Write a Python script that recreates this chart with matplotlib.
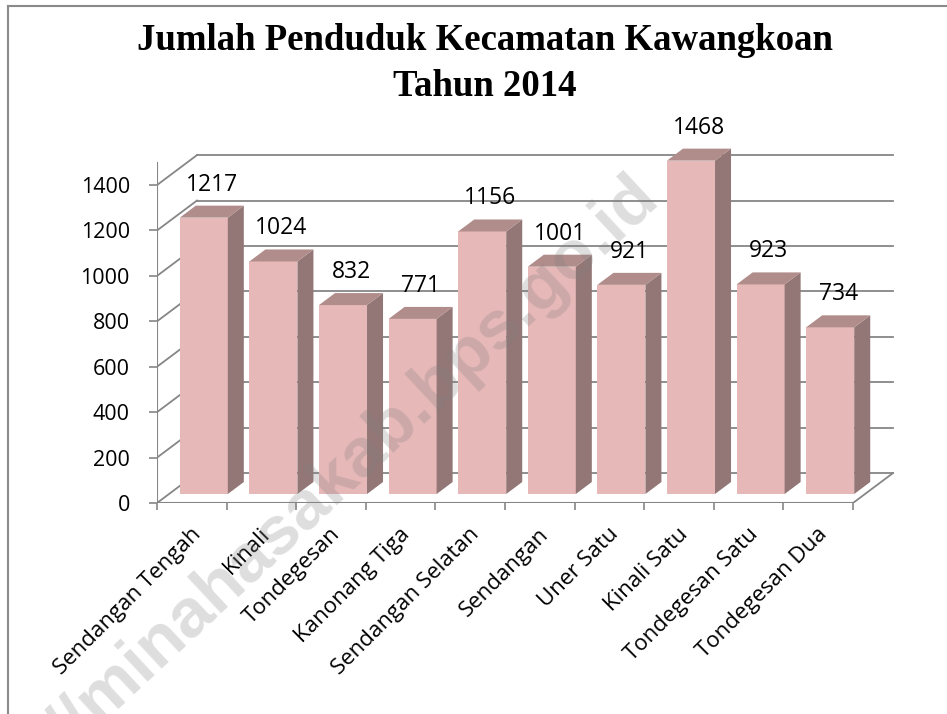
#%%
import numpy as np
import matplotlib.pyplot as plt
import matplotlib.transforms as mtransforms
from matplotlib.patches import Polygon

#%% data
kecamatan = ['Sendangan Tengah', 'Kinali', 'Tondegesan', 'Kanonang Tiga',
             'Sendangan Selatan', 'Sendangan', 'Uner Satu', 'Kinali Satu',
             'Tondegesan Satu', 'Tondegesan Dua']
penduduk = [1217, 1024, 832, 771, 1156, 1001, 921, 1468, 923, 734]
yticks = [0, 200, 400, 600, 800, 1000, 1200, 1400]

#%% fake 3d geometry (data units)
DX, DY = 0.575, 132     # depth of the floor / back wall
f0, f1 = 0.3, 0.7       # bar front and back, as fraction of depth
bl, bw = 0.155, 0.69    # bar offset and width inside a category
grid_c = '#868686'
front_c, side_c, top_c = '#E6B8B7', '#937676', '#B08D8B'
font = 'Open Sans'

fig = plt.figure(figsize=(9.47, 7.14), dpi=100)
ax = fig.add_axes([157/947, (714-503)/714, 743/947, 393/714])
ax.set_xlim(0, 743/69.6)
ax.set_ylim(0, 393/0.2271)
ax.patch.set_alpha(0)
for s in ax.spines.values():
    s.set_visible(False)

n = len(penduduk)
# back wall and left wall
for v in yticks:
    ax.plot([DX, n + DX], [v + DY, v + DY], color=grid_c, lw=1.3, zorder=1)
    ax.plot([0, DX], [v, v + DY], color=grid_c, lw=1.3, zorder=1)
ax.plot([0, 0], [0, 1497], color=grid_c, lw=1.5, zorder=1)
ax.plot([n, n + DX], [0, DY], color=grid_c, lw=1.3, zorder=1)
ax.plot([0, n], [0, 0], color=grid_c, lw=1.5, zorder=4)

# bars
d = (f1 - f0)
x0 = np.arange(n) + bl + f0*DX
ax.bar(x0, penduduk, width=bw, bottom=f0*DY, align='edge', color=front_c, zorder=3)
for i, v in enumerate(penduduk):
    xa, xb, yb = x0[i], x0[i] + bw, f0*DY
    side = [(xb, yb), (xb + d*DX, yb + d*DY), (xb + d*DX, yb + v + d*DY), (xb, yb + v)]
    top = [(xa, yb + v), (xb, yb + v), (xb + d*DX, yb + v + d*DY), (xa + d*DX, yb + v + d*DY)]
    ax.add_patch(Polygon(side, closed=True, facecolor=side_c, edgecolor='none', zorder=3))
    ax.add_patch(Polygon(top, closed=True, facecolor=top_c, edgecolor='none', zorder=3))
    ax.text(i + 0.5 + 0.5*DX, v + 0.5*DY + 119, str(v), ha='center', va='center',
            fontsize=16.5, family=font, zorder=5)

# axes ticks
ax.set_yticks(yticks)
ax.set_yticklabels([str(t) for t in yticks], family=font, fontsize=15.5)
ax.tick_params(axis='y', length=5.5, width=1.2, color=grid_c, pad=14)
ax.set_xticks(np.arange(n + 1))
ax.set_xticklabels([])
ax.tick_params(axis='x', length=5, width=1.2, color=grid_c, direction='out')

off = mtransforms.ScaledTranslation(-1/72, -15/72, fig.dpi_scale_trans)
for i, name in enumerate(kecamatan):
    ax.text(i + 0.5, 0, name, rotation=45, ha='right', va='top', rotation_mode='anchor',
            fontsize=16, family=font, transform=ax.transData + off)

# title
fig.text(485/947, 1 - 50/714, 'Jumlah Penduduk Kecamatan Kawangkoan', ha='center', va='baseline',
         fontsize=26.5, fontweight='bold', family='Liberation Serif')
fig.text(485/947, 1 - 96/714, 'Tahun 2014', ha='center', va='baseline',
         fontsize=26.5, fontweight='bold', family='Liberation Serif')

# border of the chart area (top and left only)
fig.add_artist(plt.Line2D([8/947, 8/947], [0, 1 - 6/714], color='#8a8a8a', lw=1.5))
fig.add_artist(plt.Line2D([8/947, 1], [1 - 6/714, 1 - 6/714], color='#8a8a8a', lw=1.5))

# watermark
fig.text(297/947, 1 - 514/714, 'http://minahasakab.bps.go.id', rotation=43,
         ha='center', va='center', fontsize=50, fontweight='bold', family='Liberation Sans',
         color='#808080', alpha=0.26, zorder=10)

fig.savefig('out.png', dpi=100)
